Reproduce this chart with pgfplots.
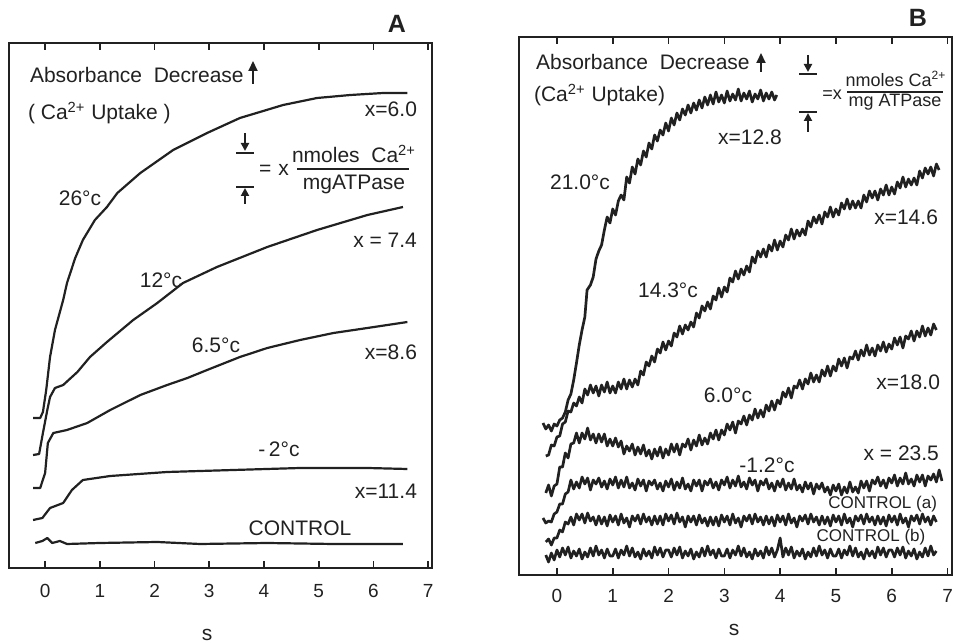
\documentclass[border=0pt]{standalone}
\usepackage{pgfplots}
\pgfplotsset{compat=1.18}
\usepackage{fontspec}
\setmainfont{Liberation Sans}
\usetikzlibrary{arrows.meta}
\newcommand\lf{\fontsize{10.5}{12}\selectfont}
\newcommand\smf{\fontsize{8.5}{10}\selectfont}
\newcommand\ff{\fontsize{9}{10}\selectfont}
\definecolor{ink}{gray}{0.13}
\begin{document}
\begin{tikzpicture}
\path[use as bounding box] (0,0) rectangle (477pt,321.5pt);
\pgfplotsset{panel/.style={scale only axis, anchor=south west,
  axis line style={line width=0.9pt, ink},
  xtick={0,...,7}, ytick=\empty, tick align=inside, major tick length=3.5pt,
  tick style={line width=0.8pt, ink},
  /pgf/number format/assume math mode=true,
  tick label style={font=\fontsize{9.5}{11}\selectfont, text=ink},
  every axis plot/.append style={no markers, line join=round, ink}}}

% ---------------- Panel A ----------------
\begin{axis}[panel, at={(4.5pt,37.5pt)}, width=211.5pt, height=262.5pt,
  xmin=-0.66, xmax=7.07, ymin=0, ymax=525, xticklabel style={yshift=-4.5pt}]
\addplot[line width=1.1pt] coordinates {(-0.22,150) (-0.09,150) (-0.04,156) (0.02,178) (0.09,211) (0.18,238) (0.24,250) (0.33,268) (0.40,285) (0.55,310) (0.69,328) (0.91,348) (1.13,361) (1.32,375) (1.74,395) (2.34,418) (2.96,435) (3.56,450) (4.35,463) (4.97,470) (5.58,473) (6.18,475) (6.62,475)};
\addplot[line width=1.1pt] coordinates {(-0.22,113) (-0.11,114) (-0.04,135) (0.04,158) (0.09,171) (0.18,180) (0.33,183) (0.59,196) (0.82,211) (1.13,226) (1.61,248) (2.05,265) (2.52,285) (3.14,301) (4.06,321) (4.97,338) (5.89,353) (6.54,361)};
\addplot[line width=1.1pt] coordinates {(-0.22,80) (-0.09,80) (0.00,95) (0.05,125) (0.15,135) (0.40,138) (0.77,145) (1.19,158) (1.74,173) (2.23,183) (2.60,190) (2.96,198) (3.56,211) (4.06,220) (4.66,228) (5.27,235) (5.89,240) (6.62,246)};
\addplot[line width=1.1pt] coordinates {(-0.22,48) (-0.05,50) (0.09,60) (0.33,65) (0.49,78) (0.69,88) (1.19,92) (2.23,96) (3.44,98) (4.66,100) (5.89,100) (6.62,99)};
\addplot[line width=1.1pt] coordinates {(-0.18,25) (-0.05,27) (0.04,30) (0.13,25) (0.27,27) (0.40,24) (1.00,25) (2.05,26) (2.83,24) (4.06,25) (5.27,24) (6.54,24)};
\end{axis}

% ---------------- Panel B ----------------
\begin{axis}[panel, at={(259.5pt,34pt)}, width=216.5pt, height=269pt,
  xmin=-0.68, xmax=7.08, ymin=0, ymax=538, xticklabel style={yshift=-3.5pt}]
% 21.0 C
\addplot[line width=1.35pt] coordinates {(-0.25,152) (-0.20,146) (-0.15,150) (-0.10,144) (-0.05,151) (0.00,149) (0.05,155) (0.10,157) (0.15,163) (0.20,175) (0.25,181) (0.30,195) (0.35,212) (0.40,230) (0.45,245) (0.50,258) (0.54,285) (0.60,290) (0.65,298) (0.70,316) (0.75,324) (0.80,330) (0.85,345) (0.90,358) (0.95,352) (1.00,366) (1.05,360) (1.10,374) (1.15,380) (1.20,375) (1.25,398) (1.30,392) (1.35,408) (1.40,401) (1.45,416) (1.50,410) (1.55,424) (1.60,418) (1.65,432) (1.70,426) (1.75,440) (1.80,434) (1.85,445) (1.90,440) (1.95,452) (2.00,444) (2.05,457) (2.10,450) (2.15,462) (2.20,455) (2.25,466) (2.30,460) (2.35,470) (2.40,462) (2.45,472) (2.50,465) (2.55,475) (2.60,467) (2.65,478) (2.70,470) (2.75,480) (2.80,471) (2.85,483) (2.90,473) (2.95,480) (3.00,472) (3.05,484) (3.10,474) (3.15,481) (3.20,475) (3.25,486) (3.30,474) (3.35,482) (3.40,476) (3.45,484) (3.50,473) (3.55,481) (3.60,476) (3.65,485) (3.70,474) (3.75,482) (3.80,476) (3.85,483) (3.90,475) (3.94,480)};
% 14.3 C
\addplot[line width=1.35pt] coordinates {(-0.20,119) (-0.15,120) (-0.10,130) (-0.05,129) (0.00,138) (0.05,139) (0.10,151) (0.15,153) (0.20,164) (0.25,163) (0.30,172) (0.35,169) (0.40,178) (0.45,172) (0.50,186) (0.55,180) (0.60,190) (0.65,182) (0.70,189) (0.75,179) (0.80,190) (0.85,183) (0.90,193) (0.95,182) (1.00,189) (1.05,182) (1.10,193) (1.15,186) (1.20,196) (1.25,186) (1.30,195) (1.35,188) (1.40,196) (1.45,190) (1.50,204) (1.55,200) (1.60,213) (1.65,209) (1.70,219) (1.75,213) (1.80,226) (1.85,222) (1.90,233) (1.95,225) (2.00,234) (2.05,229) (2.10,242) (2.15,238) (2.20,249) (2.25,241) (2.30,250) (2.35,245) (2.40,253) (2.45,248) (2.50,262) (2.55,257) (2.60,269) (2.65,264) (2.70,273) (2.75,266) (2.80,279) (2.85,275) (2.90,287) (2.95,278) (3.00,288) (3.05,283) (3.10,297) (3.15,293) (3.20,304) (3.25,296) (3.30,306) (3.35,300) (3.40,309) (3.45,303) (3.50,318) (3.55,312) (3.60,324) (3.65,318) (3.70,326) (3.75,318) (3.80,330) (3.85,324) (3.90,335) (3.95,325) (4.00,334) (4.05,328) (4.10,340) (4.15,335) (4.20,346) (4.25,336) (4.30,345) (4.35,339) (4.40,346) (4.45,340) (4.50,354) (4.55,348) (4.60,358) (4.65,352) (4.70,360) (4.75,351) (4.80,363) (4.85,358) (4.90,368) (4.95,358) (5.00,366) (5.05,360) (5.10,372) (5.15,366) (5.20,376) (5.25,366) (5.30,374) (5.35,367) (5.40,374) (5.45,367) (5.50,380) (5.55,373) (5.60,384) (5.65,377) (5.70,384) (5.75,375) (5.80,386) (5.85,380) (5.90,390) (5.95,380) (6.00,388) (6.05,381) (6.10,393) (6.15,387) (6.20,398) (6.25,388) (6.30,396) (6.35,390) (6.40,397) (6.45,390) (6.50,404) (6.55,397) (6.60,407) (6.65,401) (6.70,408) (6.75,399) (6.80,411) (6.85,405)};
% 6.0 C
\addplot[line width=1.35pt] coordinates {(-0.20,82) (-0.15,90) (-0.10,79) (-0.05,89) (0.00,91) (0.05,108) (0.10,108) (0.15,122) (0.20,117) (0.25,131) (0.30,132) (0.35,142) (0.40,132) (0.45,142) (0.50,136) (0.55,147) (0.60,135) (0.65,141) (0.70,132) (0.75,141) (0.80,133) (0.85,141) (0.90,129) (0.95,136) (1.00,129) (1.05,137) (1.10,128) (1.15,134) (1.20,121) (1.25,129) (1.30,124) (1.35,131) (1.40,120) (1.45,128) (1.50,121) (1.55,130) (1.60,119) (1.65,125) (1.70,116) (1.75,126) (1.80,119) (1.85,128) (1.90,117) (1.95,126) (2.00,120) (2.05,131) (2.10,123) (2.15,131) (2.20,120) (2.25,131) (2.30,128) (2.35,136) (2.40,125) (2.45,135) (2.50,129) (2.55,140) (2.60,130) (2.65,137) (2.70,131) (2.75,142) (2.80,136) (2.85,145) (2.90,135) (2.95,145) (3.00,140) (3.05,151) (3.10,145) (3.15,153) (3.20,142) (3.25,154) (3.30,151) (3.35,159) (3.40,150) (3.45,160) (3.50,155) (3.55,166) (3.60,157) (3.65,165) (3.70,158) (3.75,170) (3.80,164) (3.85,174) (3.90,165) (3.95,175) (4.00,171) (4.05,183) (4.10,178) (4.15,187) (4.20,177) (4.25,189) (4.30,187) (4.35,195) (4.40,186) (4.45,196) (4.50,191) (4.55,202) (4.60,193) (4.65,200) (4.70,193) (4.75,205) (4.80,199) (4.85,209) (4.90,199) (4.95,209) (5.00,204) (5.05,216) (5.10,209) (5.15,217) (5.20,207) (5.25,218) (5.30,216) (5.35,224) (5.40,215) (5.45,225) (5.50,219) (5.55,230) (5.60,220) (5.65,227) (5.70,219) (5.75,230) (5.80,224) (5.85,233) (5.90,223) (5.95,231) (6.00,226) (6.05,237) (6.10,230) (6.15,238) (6.20,227) (6.25,239) (6.30,236) (6.35,244) (6.40,234) (6.45,244) (6.50,238) (6.55,249) (6.60,239) (6.65,247) (6.70,240) (6.75,251) (6.80,245)};
% -1.2 C
\addplot[line width=1.35pt] coordinates {(-0.25,57) (-0.20,52) (-0.15,54) (-0.10,53) (-0.05,61) (0.00,63) (0.05,71) (0.10,71) (0.15,81) (0.20,83) (0.25,95) (0.30,86) (0.35,93) (0.40,87) (0.45,98) (0.50,91) (0.55,97) (0.60,85) (0.65,95) (0.70,91) (0.75,97) (0.80,88) (0.85,94) (0.90,86) (0.95,96) (1.00,90) (1.05,98) (1.10,87) (1.15,95) (1.20,88) (1.25,98) (1.30,87) (1.35,92) (1.40,85) (1.45,96) (1.50,89) (1.55,95) (1.60,84) (1.65,94) (1.70,90) (1.75,95) (1.80,86) (1.85,92) (1.90,84) (1.95,94) (2.00,88) (2.05,96) (2.10,85) (2.15,93) (2.20,87) (2.25,97) (2.30,86) (2.35,91) (2.40,84) (2.45,95) (2.50,89) (2.55,95) (2.60,84) (2.65,94) (2.70,90) (2.75,96) (2.80,87) (2.85,93) (2.90,85) (2.95,95) (3.00,90) (3.05,98) (3.10,87) (3.15,95) (3.20,89) (3.25,99) (3.30,88) (3.35,93) (3.40,86) (3.45,97) (3.50,90) (3.55,95) (3.60,84) (3.65,94) (3.70,90) (3.75,96) (3.80,86) (3.85,92) (3.90,84) (3.95,94) (4.00,88) (4.05,96) (4.10,85) (4.15,92) (4.20,86) (4.25,96) (4.30,85) (4.35,90) (4.40,83) (4.45,93) (4.50,86) (4.55,92) (4.60,81) (4.65,91) (4.70,86) (4.75,92) (4.80,83) (4.85,88) (4.90,80) (4.95,90) (5.00,84) (5.05,91) (5.10,80) (5.15,88) (5.20,82) (5.25,93) (5.30,83) (5.35,88) (5.40,82) (5.45,94) (5.50,87) (5.55,94) (5.60,84) (5.65,95) (5.70,91) (5.75,98) (5.80,89) (5.85,95) (5.90,87) (5.95,97) (6.00,92) (6.05,100) (6.10,89) (6.15,97) (6.20,91) (6.25,102) (6.30,91) (6.35,96) (6.40,89) (6.45,100) (6.50,93) (6.55,100) (6.60,89) (6.65,99) (6.70,95) (6.75,101) (6.80,93) (6.85,105) (6.90,94)};
% Control (a)
\addplot[line width=1.35pt] coordinates {(-0.20,33) (-0.15,36) (-0.10,30) (-0.05,37) (0.00,37) (0.05,45) (0.10,43) (0.15,53) (0.20,51) (0.25,58) (0.30,50) (0.35,61) (0.40,55) (0.45,61) (0.50,52) (0.55,62) (0.60,54) (0.65,58) (0.70,50) (0.75,59) (0.80,51) (0.85,58) (0.90,49) (0.95,60) (1.00,53) (1.05,59) (1.10,50) (1.15,61) (1.20,52) (1.25,57) (1.30,48) (1.35,59) (1.40,54) (1.45,60) (1.50,51) (1.55,61) (1.60,53) (1.65,58) (1.70,50) (1.75,59) (1.80,51) (1.85,59) (1.90,50) (1.95,61) (2.00,54) (2.05,60) (2.10,51) (2.15,62) (2.20,53) (2.25,58) (2.30,48) (2.35,59) (2.40,53) (2.45,59) (2.50,50) (2.55,60) (2.60,52) (2.65,57) (2.70,49) (2.75,58) (2.80,50) (2.85,58) (2.90,49) (2.95,60) (3.00,53) (3.05,59) (3.10,50) (3.15,61) (3.20,52) (3.25,57) (3.30,48) (3.35,59) (3.40,54) (3.45,60) (3.50,51) (3.55,61) (3.60,53) (3.65,58) (3.70,50) (3.75,59) (3.80,51) (3.85,58) (3.90,49) (3.95,60) (4.00,53) (4.05,59) (4.10,50) (4.15,61) (4.20,52) (4.25,57) (4.30,48) (4.35,59) (4.40,54) (4.45,60) (4.50,51) (4.55,61) (4.60,53) (4.65,58) (4.70,50) (4.75,59) (4.80,51) (4.85,58) (4.90,49) (4.95,60) (5.00,53) (5.05,59) (5.10,50) (5.15,61) (5.20,52) (5.25,57) (5.30,48) (5.35,59) (5.40,54) (5.45,60) (5.50,51) (5.55,61) (5.60,53) (5.65,58) (5.70,50) (5.75,59) (5.80,51) (5.85,58) (5.90,49) (5.95,60) (6.00,53) (6.05,59) (6.10,50) (6.15,61) (6.20,52) (6.25,57) (6.30,48) (6.35,59) (6.40,54) (6.45,60) (6.50,51) (6.55,61) (6.60,53) (6.65,58) (6.70,50) (6.75,59) (6.80,53)};
% Control (b)
\addplot[line width=1.35pt] coordinates {(-0.20,20) (-0.15,13) (-0.10,22) (-0.05,15) (0.00,25) (0.05,18) (0.10,27) (0.15,20) (0.20,28) (0.25,17) (0.30,24) (0.35,19) (0.40,26) (0.45,16) (0.50,23) (0.55,18) (0.60,27) (0.65,19) (0.70,29) (0.75,20) (0.80,25) (0.85,17) (0.90,26) (0.95,19) (1.00,19) (1.05,26) (1.10,17) (1.15,25) (1.20,20) (1.25,29) (1.30,19) (1.35,27) (1.40,18) (1.45,23) (1.50,16) (1.55,26) (1.60,19) (1.65,24) (1.70,17) (1.75,28) (1.80,20) (1.85,27) (1.90,18) (1.95,25) (2.00,25) (2.05,18) (2.10,27) (2.15,20) (2.20,28) (2.25,17) (2.30,24) (2.35,19) (2.40,26) (2.45,16) (2.50,23) (2.55,18) (2.60,27) (2.65,19) (2.70,29) (2.75,20) (2.80,25) (2.85,17) (2.90,26) (2.95,19) (3.00,19) (3.05,26) (3.10,17) (3.15,25) (3.20,20) (3.25,29) (3.30,19) (3.35,27) (3.40,18) (3.45,23) (3.50,16) (3.55,26) (3.60,19) (3.65,24) (3.70,17) (3.75,28) (3.80,20) (3.85,27) (3.90,18) (3.95,25) (4.00,37) (4.05,18) (4.10,27) (4.15,20) (4.20,28) (4.25,17) (4.30,24) (4.35,19) (4.40,26) (4.45,16) (4.50,23) (4.55,18) (4.60,27) (4.65,19) (4.70,29) (4.75,20) (4.80,25) (4.85,17) (4.90,26) (4.95,19) (5.00,19) (5.05,26) (5.10,17) (5.15,25) (5.20,20) (5.25,29) (5.30,19) (5.35,27) (5.40,18) (5.45,23) (5.50,16) (5.55,26) (5.60,19) (5.65,24) (5.70,17) (5.75,28) (5.80,20) (5.85,27) (5.90,18) (5.95,25) (6.00,25) (6.05,18) (6.10,27) (6.15,20) (6.20,28) (6.25,17) (6.30,24) (6.35,19) (6.40,26) (6.45,16) (6.50,23) (6.55,18) (6.60,27) (6.65,19) (6.70,29) (6.75,20) (6.80,24)};
\end{axis}

% ---------------- Text (pixel coordinates, y downwards) ----------------
\begin{scope}[x=0.5pt, y=-0.5pt, shift={(0pt,321.5pt)}, text=ink, draw=ink]
% Panel A
\node[font=\fontsize{12.5}{14}\bfseries\selectfont] at (397,24) {A};
\node[anchor=base west, font=\lf] at (23,83) {Absorbance\ \ Decrease};
\draw[line width=1pt, -{Triangle[length=5pt,width=4.5pt]}] (253,84) -- (253,61);
\node[anchor=base west, font=\lf] at (21,120) {( Ca\textsuperscript{2+} Uptake )};
\node[anchor=base east, font=\lf] at (424,117) {x=6.0};
\draw[line width=1pt, -{Triangle[length=4pt,width=4pt]}] (245,133) -- (245,151);
\draw[line width=1pt] (236,153) -- (254,153);
\draw[line width=1pt] (236,187) -- (254,187);
\draw[line width=1pt, -{Triangle[length=4pt,width=4pt]}] (245,204) -- (245,188);
\node[font=\lf] at (274,170) {=\,\,x};
\node[anchor=base, font=\lf] at (354,163) {nmoles\ \ Ca\textsuperscript{2+}};
\draw[line width=0.9pt] (297,169) -- (409,169);
\node[anchor=base, font=\lf] at (354,190) {mgATPase};
\node[font=\lf] at (80,198) {26°c};
\node[anchor=east, font=\lf] at (424,240) {x = 7.4};
\node[font=\lf] at (161,280) {12°c};
\node[font=\lf] at (216,345) {6.5°c};
\node[anchor=east, font=\lf] at (424,352) {x=8.6};
\node[font=\lf] at (279,449) {-\,2°c};
\node[anchor=east, font=\lf] at (424,491) {x=11.4};
\node[font=\lf] at (300,528) {CONTROL};
\node[font=\lf, inner sep=0pt] at (207,635) {s};
% Panel B
\node[font=\fontsize{12.5}{14}\bfseries\selectfont] at (918,18) {B};
\node[anchor=base west, font=\lf] at (529,70) {Absorbance\ \ Decrease};
\draw[line width=1pt, -{Triangle[length=5pt,width=4.5pt]}] (761,72) -- (761,53);
\node[anchor=base west, font=\lf] at (527,102) {(Ca\textsuperscript{2+} Uptake)};
\draw[line width=1pt, -{Triangle[length=4pt,width=4pt]}] (808,55) -- (808,72);
\draw[line width=1pt] (799,74) -- (817,74);
\draw[line width=1pt] (799,112) -- (817,112);
\draw[line width=1pt, -{Triangle[length=4pt,width=4pt]}] (808,132) -- (808,113);
\node[font=\ff, inner sep=0pt] at (832,95) {=x};
\node[anchor=base, font=\ff, inner sep=0pt] at (896,87) {nmoles Ca\textsuperscript{2+}};
\draw[line width=0.9pt] (847,92) -- (943,92);
\node[anchor=base, font=\ff, inner sep=0pt] at (895,107) {mg ATPase};
\node[font=\lf] at (750,137) {x=12.8};
\node[font=\lf] at (580,182) {21.0°c};
\node[anchor=east, font=\lf] at (945,217) {x=14.6};
\node[font=\lf] at (668,290) {14.3°c};
\node[font=\lf] at (728,395) {6.0°c};
\node[anchor=east, font=\lf] at (947,382) {x=18.0};
\node[font=\lf] at (767,465) {-1.2°c};
\node[anchor=east, font=\lf] at (946,453) {x = 23.5};
\node[anchor=east, font=\smf] at (944,504) {CONTROL (a)};
\node[font=\smf] at (871,537) {CONTROL (b)};
\node[font=\lf, inner sep=0pt] at (734,630) {s};
\end{scope}
\end{tikzpicture}
\end{document}
